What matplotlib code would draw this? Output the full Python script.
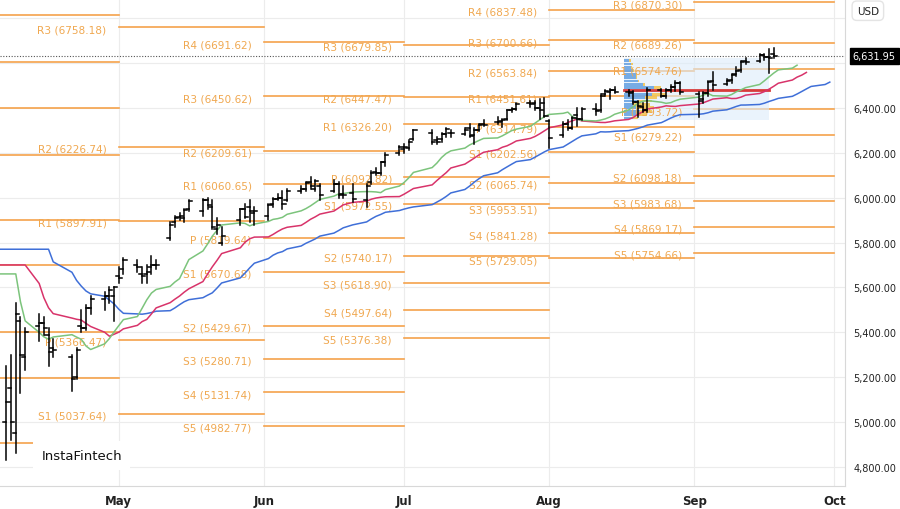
import numpy as np
import pandas as pd
import matplotlib
matplotlib.use("Agg")
import matplotlib.pyplot as plt
import matplotlib.dates as mdates
from matplotlib.patches import Rectangle

# daily OHLC, Apr 7 .. Sep 18
dates = pd.to_datetime([
    "2025-04-07", "2025-04-08", "2025-04-09", "2025-04-10", "2025-04-11", "2025-04-14", "2025-04-15",
    "2025-04-16", "2025-04-17", "2025-04-21", "2025-04-22", "2025-04-23", "2025-04-24", "2025-04-25",
    "2025-04-28", "2025-04-29", "2025-04-30", "2025-05-01", "2025-05-02", "2025-05-05", "2025-05-06",
    "2025-05-07", "2025-05-08", "2025-05-09", "2025-05-12", "2025-05-13", "2025-05-14", "2025-05-15",
    "2025-05-16", "2025-05-19", "2025-05-20", "2025-05-21", "2025-05-22", "2025-05-23", "2025-05-27",
    "2025-05-28", "2025-05-29", "2025-05-30", "2025-06-02", "2025-06-03", "2025-06-04", "2025-06-05",
    "2025-06-06", "2025-06-09", "2025-06-10", "2025-06-11", "2025-06-12", "2025-06-13", "2025-06-16",
    "2025-06-17", "2025-06-18", "2025-06-20", "2025-06-23", "2025-06-24", "2025-06-25", "2025-06-26",
    "2025-06-27", "2025-06-30", "2025-07-01", "2025-07-02", "2025-07-03", "2025-07-07", "2025-07-08",
    "2025-07-09", "2025-07-10", "2025-07-11", "2025-07-14", "2025-07-15", "2025-07-16", "2025-07-17",
    "2025-07-18", "2025-07-21", "2025-07-22", "2025-07-23", "2025-07-24", "2025-07-25", "2025-07-28",
    "2025-07-29", "2025-07-30", "2025-07-31", "2025-08-01", "2025-08-04", "2025-08-05", "2025-08-06",
    "2025-08-07", "2025-08-08", "2025-08-11", "2025-08-12", "2025-08-13", "2025-08-14", "2025-08-15",
    "2025-08-18", "2025-08-19", "2025-08-20", "2025-08-21", "2025-08-22", "2025-08-25", "2025-08-26",
    "2025-08-27", "2025-08-28", "2025-08-29", "2025-09-02", "2025-09-03", "2025-09-04", "2025-09-05",
    "2025-09-08", "2025-09-09", "2025-09-10", "2025-09-11", "2025-09-12", "2025-09-15", "2025-09-16",
    "2025-09-17", "2025-09-18"])
future_dates = pd.to_datetime(["2025-09-19", "2025-09-22", "2025-09-23", "2025-09-24",
                               "2025-09-25", "2025-09-26", "2025-09-29", "2025-09-30"])

opens = [5000, 5150, 4950, 5450, 5290, 5430, 5440, 5390, 5330, 5290, 5200, 5430, 5420, 5510,
         5550, 5560, 5560, 5650, 5680, 5700, 5660, 5660, 5690, 5700, 5820, 5890, 5915, 5910,
         5950, 5940, 5990, 5960, 5860, 5800, 5900, 5950, 5960, 5930, 5920, 5970, 5995, 6000,
         5990, 6030, 6040, 6070, 6040, 6050, 6030, 6060, 6015, 6020, 5990, 6070, 6115, 6110,
         6160, 6200, 6215, 6220, 6260, 6290, 6255, 6260, 6285, 6290, 6285, 6310, 6280, 6300,
         6330, 6335, 6340, 6350, 6390, 6395, 6420, 6420, 6400, 6420, 6340, 6280, 6330, 6310,
         6370, 6350, 6395, 6390, 6460, 6470, 6480, 6470, 6470, 6425, 6405, 6390, 6480, 6455,
         6480, 6495, 6510, 6460, 6440, 6465, 6520, 6505, 6525, 6550, 6570, 6610, 6610, 6635,
         6625, 6640]
highs = [5250, 5300, 5530, 5470, 5420, 5480, 5470, 5420, 5370, 5300, 5330, 5500, 5520, 5560,
         5580, 5600, 5600, 5690, 5730, 5720, 5690, 5700, 5740, 5720, 5890, 5920, 5930, 5950,
         5990, 5995, 6000, 5990, 5910, 5870, 5950, 5970, 5990, 5960, 5970, 6000, 6015, 6030,
         6040, 6050, 6070, 6090, 6080, 6060, 6080, 6070, 6050, 6060, 6060, 6120, 6130, 6160,
         6200, 6230, 6240, 6255, 6300, 6300, 6270, 6290, 6310, 6300, 6310, 6330, 6310, 6330,
         6345, 6360, 6350, 6390, 6400, 6420, 6430, 6430, 6440, 6445, 6345, 6335, 6345, 6360,
         6400, 6400, 6415, 6460, 6480, 6485, 6495, 6480, 6475, 6430, 6420, 6490, 6485, 6485,
         6500, 6520, 6515, 6470, 6470, 6520, 6560, 6530, 6550, 6580, 6610, 6620, 6640, 6640,
         6660, 6665]
lows = [4830, 4920, 4860, 5130, 5230, 5360, 5390, 5250, 5290, 5140, 5190, 5400, 5410, 5480,
        5500, 5530, 5450, 5620, 5660, 5670, 5620, 5620, 5660, 5680, 5810, 5870, 5900, 5890,
        5940, 5920, 5950, 5860, 5840, 5790, 5880, 5910, 5890, 5880, 5900, 5960, 5990, 5950,
        5985, 6020, 6030, 6040, 6030, 5990, 6025, 6000, 6000, 5980, 5960, 6060, 6100, 6100,
        6140, 6190, 6200, 6210, 6255, 6240, 6240, 6250, 6270, 6270, 6280, 6270, 6240, 6295,
        6320, 6330, 6315, 6345, 6380, 6390, 6405, 6390, 6350, 6360, 6220, 6270, 6300, 6305,
        6320, 6345, 6370, 6380, 6455, 6440, 6465, 6455, 6415, 6360, 6380, 6380, 6450, 6445,
        6470, 6475, 6460, 6360, 6420, 6455, 6480, 6500, 6510, 6540, 6560, 6595, 6605, 6615,
        6555, 6620]
closes = [5090, 5000, 5480, 5300, 5400, 5440, 5420, 5310, 5320, 5190, 5320, 5420, 5510, 5550,
          5560, 5590, 5600, 5640, 5720, 5690, 5650, 5670, 5700, 5700, 5880, 5910, 5920, 5945,
          5985, 5990, 5965, 5870, 5880, 5830, 5950, 5915, 5940, 5940, 5965, 5995, 6000, 5970,
          6030, 6040, 6065, 6050, 6075, 6010, 6060, 6010, 6010, 5995, 6050, 6110, 6110, 6160,
          6190, 6225, 6225, 6250, 6300, 6250, 6250, 6285, 6305, 6290, 6300, 6275, 6300, 6325,
          6325, 6335, 6345, 6390, 6395, 6415, 6415, 6400, 6390, 6365, 6265, 6330, 6310, 6355,
          6350, 6395, 6385, 6455, 6475, 6480, 6470, 6465, 6425, 6410, 6390, 6480, 6455, 6480,
          6495, 6510, 6470, 6430, 6465, 6515, 6500, 6520, 6545, 6565, 6605, 6605, 6635, 6625,
          6620, 6632]
last_price = 6631.95

# monthly pivot levels: (segment start, segment end, [(name, value), ...])
pivot_segments = [
    ("2025-04-01", "2025-05-01", [("R3", 6814), ("R2", 6605), ("R1", 6400), ("P", 6190),
                                  ("S1", 5901), ("S2", 5700), ("S3", 5402), ("S4", 5197),
                                  ("S5", 4907)]),
    ("2025-05-01", "2025-06-01", [("R3", 6758.18), ("R2", 6226.74), ("R1", 5897.91),
                                  ("P", 5366.47), ("S1", 5037.64)]),
    ("2025-06-01", "2025-07-01", [("R4", 6691.62), ("R3", 6450.62), ("R2", 6209.61),
                                  ("R1", 6060.65), ("P", 5819.64), ("S1", 5670.68),
                                  ("S2", 5429.67), ("S3", 5280.71), ("S4", 5131.74),
                                  ("S5", 4982.77)]),
    ("2025-07-01", "2025-08-01", [("R3", 6679.85), ("R2", 6447.47), ("R1", 6326.20),
                                  ("P", 6092.82), ("S1", 5972.55), ("S2", 5740.17),
                                  ("S3", 5618.90), ("S4", 5497.64), ("S5", 5376.38)]),
    ("2025-08-01", "2025-09-01", [("R4", 6837.48), ("R3", 6700.66), ("R2", 6563.84),
                                  ("R1", 6451.61), ("P", 6314.79), ("S1", 6202.56),
                                  ("S2", 6065.74), ("S3", 5953.51), ("S4", 5841.28),
                                  ("S5", 5729.05)]),
    ("2025-09-01", "2025-10-01", [("R3", 6870.30), ("R2", 6689.26), ("R1", 6574.76),
                                  ("P", 6393.72), ("S1", 6279.22), ("S2", 6098.18),
                                  ("S3", 5983.68), ("S4", 5869.17), ("S5", 5754.66)]),
]

# alligator: (period, shift, seed, colour)
alligator = [(13, 8, 5770, "#3f6fd8"), (8, 5, 5700, "#d8336a"), (5, 3, 5660, "#7cc47c")]

# volume profile rows
vp_prices = [6355, 6370, 6385, 6400, 6415, 6430, 6445, 6460, 6475, 6490, 6505, 6520,
             6535, 6550, 6565, 6580, 6595, 6610]
vp_blue = [2.0, 3.0, 3.5, 2.5, 2.0, 3.0, 4.5, 6.0, 8.0, 6.5, 4.0, 3.0, 2.5, 2.5, 2.0, 1.5, 1.5, 1.0]
vp_orange = [1.0, 2.0, 2.5, 4.0, 3.5, 3.0, 2.5, 3.0, 3.5, 1.5, 0.5, 0.3, 0.2, 0.2, 0.2, 0.2, 0.4, 0.6]
vp_poc = 6480

ORANGE = "#f5a24b"
LABEL = "#f0a850"
Y0, Y1 = 4715, 6885

fig = plt.figure(figsize=(9, 5.1), dpi=100)
ax = fig.add_axes([0, 23 / 510, 845 / 900, 487 / 510])
ax.set_xlim(pd.Timestamp("2025-04-05 15:00"), pd.Timestamp("2025-10-03 06:00"))
ax.set_ylim(Y0, Y1)

# grid
for y in range(4800, 6801, 200):
    ax.axhline(y, color="#ececec", lw=0.8, zorder=0)
for m in ["2025-05-01", "2025-06-01", "2025-07-01", "2025-08-01", "2025-09-01", "2025-10-01"]:
    ax.axvline(pd.Timestamp(m), color="#ececec", lw=0.8, zorder=0)

# pivots
for i, (s, e, levels) in enumerate(pivot_segments):
    s, e = pd.Timestamp(s), pd.Timestamp(e)
    for name, val in levels:
        ax.plot([s, e], [val, val], color=ORANGE, lw=1.2, zorder=1)
        if i > 0:
            ax.text(s - pd.Timedelta(days=2.6), val - 8, f"{name} ({val:.2f})",
                    ha="right", va="center", fontsize=7.6, color=LABEL, zorder=2)

# volume profile
vp_x0 = mdates.date2num(pd.Timestamp("2025-08-17"))
vp_x1 = mdates.date2num(pd.Timestamp("2025-09-17"))
ax.add_patch(Rectangle((vp_x0, 6345), vp_x1 - vp_x0, 275, color="#dcecfa", alpha=0.6,
                       lw=0, zorder=1.5))
for p, b, o in zip(vp_prices, vp_blue, vp_orange):
    ax.barh(p, b, left=vp_x0, height=12, color="#5b9be0", alpha=0.8, zorder=1.6)
    ax.barh(p, o, left=vp_x0 + b, height=12, color="#f5c040", alpha=0.8, zorder=1.6)
ax.plot([vp_x0, vp_x1], [vp_poc, vp_poc], color="#d83a3a", lw=2, zorder=3)

# alligator lines on median price
median = (np.array(highs) + np.array(lows)) / 2
all_days = list(dates) + list(future_dates)
for period, shift, seed, col in alligator:
    vals = []
    s = seed
    for p in median:
        s = (s * (period - 1) + p) / period
        vals.append(s)
    xs = [pd.Timestamp("2025-04-05"), all_days[shift - 1]] + all_days[shift:shift + len(vals)]
    ys = [seed, seed] + vals
    ax.plot(xs, ys, color=col, lw=1.1, zorder=3)

# OHLC bars
tick = pd.Timedelta(hours=16)
for d, o, h, l, c in zip(dates, opens, highs, lows, closes):
    ax.plot([d, d], [l, h], color="black", lw=1.1, zorder=4)
    ax.plot([d - tick, d], [o, o], color="black", lw=1.1, zorder=4)
    ax.plot([d, d + tick], [c, c], color="black", lw=1.1, zorder=4)

ax.axhline(last_price, color="#555555", lw=0.8, ls=(0, (1, 1.5)), zorder=2)

# axes styling
for sp in ["top", "left"]:
    ax.spines[sp].set_visible(False)
ax.spines["right"].set_color("#d8d8d8")
ax.spines["bottom"].set_color("#d8d8d8")
ax.yaxis.tick_right()
yt = [v for v in range(4800, 6601, 200) if v != 6600]
ax.set_yticks(yt)
ax.set_yticklabels([f"{v:,.2f}" for v in yt], fontsize=7, color="#222222")
ax.tick_params(axis="y", length=0, pad=6)
ax.xaxis.set_major_locator(mdates.MonthLocator())
ax.xaxis.set_major_formatter(mdates.DateFormatter("%b"))
ax.tick_params(axis="x", length=0, pad=6, labelsize=8.5, labelcolor="#222222")
for t in ax.get_xticklabels():
    t.set_fontweight("bold")

# last price box
ax.text(1.009, (last_price - Y0) / (Y1 - Y0), f"{last_price:,.2f}",
        transform=ax.transAxes, ha="left", va="center", fontsize=7, color="white",
        bbox=dict(boxstyle="square,pad=0.3", fc="black", ec="black"), zorder=6)
# currency box
fig.text(0.952, 0.977, "USD", ha="left", va="center", fontsize=7.5, color="#222222",
         bbox=dict(boxstyle="round,pad=0.45", fc="white", ec="#e4e4e4"))
# logo
fig.text(0.046, 0.105, "InstaFintech", ha="left", va="center", fontsize=9.5, color="#111111",
         bbox=dict(boxstyle="square,pad=0.6", fc="white", ec="none"))

fig.savefig("out.png", dpi=100)
